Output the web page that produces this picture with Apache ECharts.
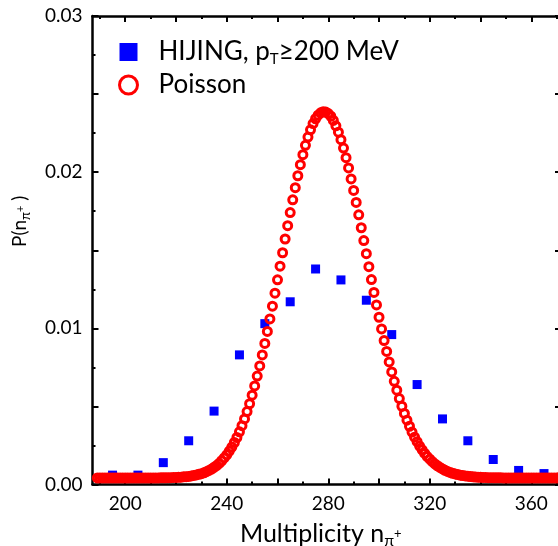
<!DOCTYPE html>
<html><head><meta charset="utf-8">
<script src="https://cdn.jsdelivr.net/npm/echarts@6/dist/echarts.min.js"></script>
<style>html,body{margin:0;padding:0;background:#fff}#c{width:558px;height:546px}</style>
</head><body><div id="c"></div>
<script>
// ---- data ----
const hijingName = 'HIJING, pT≥200 MeV';
const poissonName = 'Poisson';
const hijingN = [195,205,215,225,235,245,255,265,275,285,295,305,315,325,335,345,355,365];
const hijingP = [0.0006,0.0006,0.0014,0.0028,0.0047,0.0083,0.0103,0.0117,0.0138,0.0131,0.0118,0.0096,0.0064,0.0042,0.0028,0.0016,0.0009,0.0007];
const poissonN = [
189,190,191,192,193,194,195,196,197,198,
199,200,201,202,203,204,205,206,207,208,
209,210,211,212,213,214,215,216,217,218,
219,220,221,222,223,224,225,226,227,228,
229,230,231,232,233,234,235,236,237,238,
239,240,241,242,243,244,245,246,247,248,
249,250,251,252,253,254,255,256,257,258,
259,260,261,262,263,264,265,266,267,268,
269,270,271,272,273,274,275,276,277,278,
279,280,281,282,283,284,285,286,287,288,
289,290,291,292,293,294,295,296,297,298,
299,300,301,302,303,304,305,306,307,308,
309,310,311,312,313,314,315,316,317,318,
319,320,321,322,323,324,325,326,327,328,
329,330,331,332,333,334,335,336,337,338,
339,340,341,342,343,344,345,346,347,348,
349,350,351,352,353,354,355,356,357,358,
359,360,361,362,363,364,365,366,367,368,
369,370,371,372];
const poissonP = [
0.00042,0.00042,0.00042,0.00042,0.00042,0.00042,0.00042,0.00042,0.00042,0.00042,
0.00042,0.00042,0.00042,0.00042,0.00042,0.00042,0.00042,0.00042,0.00042,0.00042,
0.00042,0.00042,0.00042,0.00042,0.00042,0.00043,0.00043,0.00043,0.00044,0.00044,
0.00045,0.00045,0.00046,0.00047,0.00049,0.00050,0.00052,0.00055,0.00058,0.00061,
0.00065,0.00069,0.00075,0.00082,0.00090,0.00099,0.00110,0.00121,0.00135,0.00152,
0.00170,0.00190,0.00214,0.00240,0.00269,0.00301,0.00337,0.00377,0.00420,0.00467,
0.00517,0.00572,0.00631,0.00694,0.00759,0.00830,0.00903,0.00980,0.01060,0.01142,
0.01225,0.01311,0.01398,0.01484,0.01572,0.01657,0.01741,0.01823,0.01901,0.01977,
0.02048,0.02112,0.02172,0.02225,0.02271,0.02311,0.02342,0.02365,0.02380,0.02387,
0.02385,0.02375,0.02358,0.02331,0.02297,0.02256,0.02208,0.02154,0.02093,0.02027,
0.01957,0.01883,0.01806,0.01727,0.01644,0.01562,0.01478,0.01395,0.01312,0.01230,
0.01150,0.01071,0.00996,0.00922,0.00852,0.00785,0.00721,0.00661,0.00604,0.00550,
0.00501,0.00455,0.00412,0.00373,0.00336,0.00303,0.00274,0.00246,0.00222,0.00199,
0.00179,0.00162,0.00146,0.00132,0.00120,0.00109,0.00100,0.00091,0.00084,0.00077,
0.00072,0.00068,0.00064,0.00060,0.00057,0.00055,0.00053,0.00051,0.00049,0.00048,
0.00047,0.00046,0.00045,0.00045,0.00044,0.00044,0.00043,0.00043,0.00043,0.00043,
0.00042,0.00042,0.00042,0.00042,0.00042,0.00042,0.00042,0.00042,0.00042,0.00042,
0.00042,0.00042,0.00042,0.00042,0.00042,0.00042,0.00042,0.00042,0.00042,0.00042,
0.00042,0.00042,0.00042,0.00042];
const xLabelValues = [200,240,280,320,360];
const xMajorTicks = [200,220,240,260,280,300,320,340,360];
const xMinorTicks = [190,210,230,250,270,290,310,330,350,370];
const xMin = 187.1, xMax = 371.7;
const yMin = 0, yMax = 0.03;

// ---- chart ----
const FONT = 'Lato';
const BLACK = '#000';
const chart = echarts.init(document.getElementById('c'), null, {renderer:'canvas'});
const lineW = 2.5;
const xBase = {type:'value', min:xMin, max:xMax, gridIndex:0, splitLine:{show:false}};
const option = {
  animation:false,
  backgroundColor:'#fff',
  textStyle:{fontFamily:FONT, color:BLACK},
  grid:{left:92.5, right:-3, top:16, bottom:61.5, containLabel:false, outerBoundsMode:'none'},
  legend:{
    orient:'vertical', left:118, top:39, padding:0,
    itemWidth:18, itemHeight:18, itemGap:5, selectedMode:false,
    data:[
      {name:hijingName, icon:'rect', itemStyle:{color:'#0000ff', borderWidth:0, opacity:1}},
      {name:poissonName, icon:'circle', itemStyle:{color:'rgba(0,0,0,0)', borderColor:'#ff0000', borderWidth:3, opacity:1}}
    ],
    formatter: function(name){
      return name === poissonName ? '{a|Poisson}' : '{a|HIJING, p}{s|T}{a|≥200 MeV}';
    },
    textStyle:{
      padding:[0,0,0,16],
      rich:{
        a:{fontSize:26, lineHeight:30, fontFamily:FONT, color:BLACK},
        s:{fontSize:15, lineHeight:12, verticalAlign:'bottom', fontFamily:FONT, color:BLACK}
      }
    }
  },
  xAxis:[
    Object.assign({}, xBase, {
      position:'bottom',
      axisLine:{show:true, onZero:false, lineStyle:{color:BLACK, width:lineW}},
      axisTick:{show:true, inside:true, length:6, customValues:xMajorTicks, lineStyle:{color:BLACK, width:2}},
      axisLabel:{show:true, customValues:xLabelValues, margin:10, fontSize:19, fontFamily:FONT, color:BLACK},
      name:'{a|Multiplicity n}{s|π}{p|+}',
      nameLocation:'middle', nameGap:34,
      nameTextStyle:{
        padding:[0,12,0,0],
        rich:{
          a:{fontSize:25, lineHeight:30, fontFamily:FONT, color:BLACK},
          s:{fontSize:16, lineHeight:14, verticalAlign:'bottom', fontFamily:FONT, color:BLACK},
          p:{fontSize:13, lineHeight:30, fontFamily:FONT, color:BLACK}
        }
      }
    }),
    Object.assign({}, xBase, {
      position:'bottom',
      axisLine:{show:false, onZero:false},
      axisTick:{show:true, inside:true, length:3, customValues:xMinorTicks, lineStyle:{color:BLACK, width:2}},
      axisLabel:{show:false}
    }),
    Object.assign({}, xBase, {
      position:'top',
      axisLine:{show:true, onZero:false, lineStyle:{color:BLACK, width:lineW}},
      axisTick:{show:true, inside:true, length:6, customValues:xMajorTicks, lineStyle:{color:BLACK, width:2}},
      axisLabel:{show:false}
    }),
    Object.assign({}, xBase, {
      position:'top',
      axisLine:{show:false, onZero:false},
      axisTick:{show:true, inside:true, length:3, customValues:xMinorTicks, lineStyle:{color:BLACK, width:2}},
      axisLabel:{show:false}
    })
  ],
  yAxis:[
    {
      type:'value', min:yMin, max:yMax, interval:0.005, position:'left',
      splitLine:{show:false}, minorSplitLine:{show:false},
      axisLine:{show:true, onZero:false, lineStyle:{color:BLACK, width:lineW}},
      axisTick:{show:true, inside:true, length:6, lineStyle:{color:BLACK, width:2}},
      minorTick:{show:true, splitNumber:2, length:3, lineStyle:{color:BLACK, width:2}},
      axisLabel:{
        margin:10, fontSize:19, fontFamily:FONT, color:BLACK,
        formatter:function(v){
          const k = v*100;
          return Math.abs(k - Math.round(k)) < 1e-6 ? v.toFixed(2) : '';
        }
      },
      name:'{a|P(n}{s|π}{p|+}{a| )}',
      nameLocation:'middle', nameGap:60,
      nameTextStyle:{
        padding:[0,0,0,58],
        rich:{
          a:{fontSize:19, lineHeight:25, fontFamily:FONT, color:BLACK},
          s:{fontSize:13, lineHeight:10, verticalAlign:'bottom', fontFamily:FONT, color:BLACK},
          p:{fontSize:11, lineHeight:25, fontFamily:FONT, color:BLACK}
        }
      }
    },
    {
      type:'value', min:yMin, max:yMax, interval:0.005, position:'right',
      splitLine:{show:false},
      axisLine:{show:true, onZero:false, lineStyle:{color:BLACK, width:lineW}},
      axisTick:{show:true, inside:true, length:6, lineStyle:{color:BLACK, width:2}},
      axisLabel:{show:false}
    }
  ],
  series:[
    {
      type:'scatter', name:hijingName, xAxisIndex:0, yAxisIndex:0,
      data: hijingN.map(function(n,i){ return [n, hijingP[i]]; }),
      symbol:'rect', symbolSize:9,
      itemStyle:{color:'#0000ff', opacity:1}, z:2
    },
    {
      type:'scatter', name:poissonName, xAxisIndex:0, yAxisIndex:0,
      data: poissonN.map(function(n,i){ return [n, poissonP[i]]; }),
      symbol:'circle', symbolSize:8,
      itemStyle:{color:'rgba(0,0,0,0)', borderColor:'#ff0000', borderWidth:3, opacity:1}, z:3
    }
  ]
};
chart.setOption(option);
</script>
</body></html>
